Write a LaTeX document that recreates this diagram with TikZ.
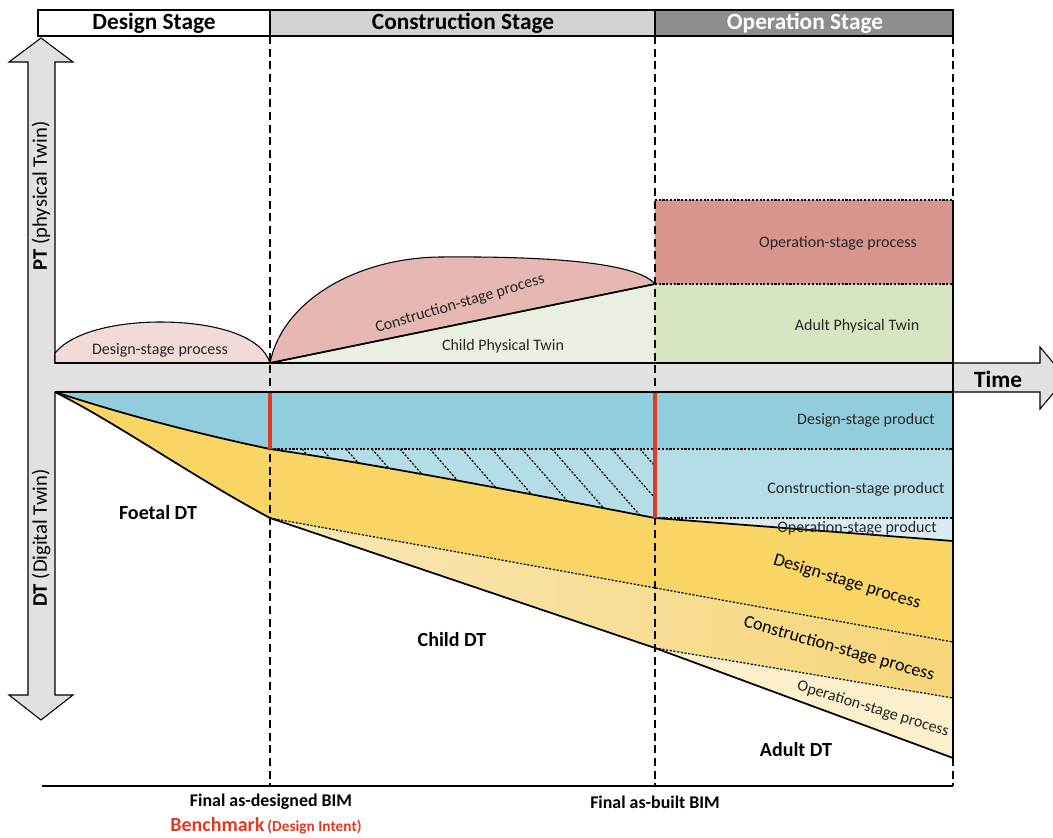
\documentclass[tikz,border=0pt]{standalone}
\usepackage{fontspec}
\setmainfont{Carlito}
\definecolor{hdrgray}{HTML}{D2D2D2}
\definecolor{hdrdark}{HTML}{8E8E8E}
\definecolor{bandgray}{HTML}{E1E1E1}
\definecolor{pinklight}{HTML}{F2DAD6}
\definecolor{pinkmid}{HTML}{E6B7B3}
\definecolor{childgreen}{HTML}{EAF0E1}
\definecolor{oppink}{HTML}{D8958E}
\definecolor{adultgreen}{HTML}{D8E5C2}
\definecolor{blueA}{HTML}{92CDDD}
\definecolor{blueB}{HTML}{B5DDE8}
\definecolor{blueC}{HTML}{DAEBF1}
\definecolor{yelA}{HTML}{F9D566}
\definecolor{yelBl}{HTML}{F9E7B6}
\definecolor{yelBr}{HTML}{F7D679}
\definecolor{yelC}{HTML}{FCEFCB}
\definecolor{redc}{HTML}{E03A24}
\definecolor{txt}{HTML}{262626}
\begin{document}
\begin{tikzpicture}[x=0.75pt,y=-0.75pt,
  lbl/.style={font=\fontsize{12}{14}\selectfont, text=txt, inner sep=0pt},
  biglbl/.style={font=\fontsize{13.5}{16}\selectfont, text=black, inner sep=0pt},
  boldlbl/.style={font=\fontsize{15}{18}\selectfont\bfseries, text=black, inner sep=0pt},
  hdr/.style={font=\fontsize{17.5}{20}\selectfont\bfseries, inner sep=0pt},
  edge/.style={line width=1.3pt, black},
  thinedge/.style={line width=0.8pt, black},
  dotl/.style={line width=0.9pt, dash pattern=on 1.6pt off 1.2pt},
  dashl/.style={line width=0.9pt, dash pattern=on 6pt off 3.5pt},
  redl/.style={line width=2.6pt, draw=redc}]
\useasboundingbox (0,0) rectangle (1053,838);
\clip (0,0) rectangle (1053,838);

% ---------- header ----------
\draw[thinedge, fill=white] (38,10) rectangle (270,36);
\draw[thinedge, fill=hdrgray] (270,10) rectangle (655,36);
\draw[thinedge, fill=hdrdark] (655,10) rectangle (953,36);
\node[hdr] (hd) at (154,23) {Design Stage};
\node[hdr] (hc) at (463,23) {Construction Stage};
\node[hdr, text=white] (ho) at (805,23) {Operation Stage};

% ---------- axes (cross-shaped double arrow + time arrow) ----------
\draw[line width=0.8pt, fill=bandgray]
  (41,38) -- (73,62) -- (55,62) -- (55,363) -- (1040,363) -- (1040,347)
  -- (1066,378) -- (1040,409) -- (1040,392) -- (55,392) -- (55,695)
  -- (73,695) -- (41,720) -- (9,695) -- (28,695) -- (28,62) -- (9,62) -- cycle;

% ---------- PT panel ----------
\coordinate (p0) at (55,363);
\coordinate (pd) at (270,363);
\coordinate (pc) at (655,284);
\coordinate (pe) at (953,363);
\filldraw[thinedge, fill=pinklight] (p0) -- (55,353)
  .. controls (75,329) and (125,322) .. (160,322)
  .. controls (215,322) and (262,336) .. (pd) -- cycle;
\fill[childgreen] (pd) -- (pc) -- (655,363) -- cycle;
\filldraw[thinedge, fill=pinkmid] (pd)
  .. controls (282,302) and (355,258) .. (440,257)
  .. controls (560,256) and (638,264) .. (pc) -- cycle;
\draw[edge] (pd) -- (pc);
\fill[oppink] (655,200) rectangle (953,284);
\fill[adultgreen] (655,284) rectangle (953,363);
\draw[dotl] (655,200) -- (953,200);
\draw[dotl] (pc) -- (953,284);
\draw[edge] (p0) -- (pe);

% ---------- DT panel ----------
\coordinate (d0) at (55,392);
\coordinate (d1) at (270,449);
\coordinate (d2) at (655,518);
\coordinate (d3) at (953,541);
\coordinate (l1) at (270,518);
\coordinate (l2) at (655,648);
\coordinate (l3) at (953,758);
\fill[blueA] (d0) -- (953,392) -- (953,449) -- (d1) .. controls (180,430) and (110,410) .. (d0) -- cycle;
\fill[blueB] (d1) -- (953,449) -- (953,518) -- (d2) .. controls (520,492) and (380,465) .. (d1) -- cycle;
\fill[blueC] (d2) -- (953,518) -- (d3) -- cycle;
\fill[yelA] (d0) .. controls (110,410) and (180,430) .. (d1)
  .. controls (380,465) and (520,492) .. (d2) -- (d3) -- (953,642) -- (l1)
  .. controls (190,475) and (120,425) .. (d0) -- cycle;
\shade[left color=yelBl, right color=yelBr] (l1) -- (953,642) -- (953,698) -- (l2) -- cycle;
\fill[yelC] (l2) -- (953,698) -- (l3) -- cycle;

% hatching
\begin{scope}
  \clip (d1) -- (655,449) -- (d2) .. controls (520,492) and (380,465) .. (d1) -- cycle;
  \foreach \hx in {302,322,346,372,400,430,462,492,522,552,582,612,640}
    \draw[dotl] (\hx,449) -- ++(62,71);
\end{scope}

\draw[dotl] (d1) -- (953,449);
\draw[dotl] (d2) -- (953,518);
\draw[dotl] (l1) -- (953,642);
\draw[dotl] (l2) -- (953,698);
\draw[edge] (d0) -- (953,392);
\draw[edge] (d0) .. controls (110,410) and (180,430) .. (d1)
  .. controls (380,465) and (520,492) .. (d2) -- (d3);
\draw[edge] (d0) .. controls (120,425) and (190,475) .. (l1) -- (l2) -- (l3);
\draw[edge] (953,200) -- (l3);

% ---------- stage separators ----------
\draw[dashl] (270,36) -- (270,786);
\draw[dashl] (655,36) -- (655,786);
\draw[dashl] (953,36) -- (953,200);
\draw[dashl] (953,758) -- (953,786);
\draw[redl] (270,393) -- (d1);
\draw[redl] (655,393) -- (d2);
\draw[line width=1pt] (42,786) -- (953,786);

% ---------- labels ----------
\node[font=\fontsize{15.5}{18}\selectfont, rotate=90, inner sep=0pt] (pt) at (41,196) {\textbf{PT} (physical Twin)};
\node[font=\fontsize{15.5}{18}\selectfont, rotate=90, inner sep=0pt] (dt) at (41,538) {\textbf{DT} (Digital Twin)};
\node[font=\fontsize{17.5}{20}\selectfont\bfseries, inner sep=0pt] (time) at (998,379) {Time};

\node[lbl] (t1) at (160,350) {Design-stage process};
\node[lbl, rotate=16.5] (t2) at (460,304) {Construction-stage process};
\node[lbl] (t3) at (503,346) {Child Physical Twin};
\node[lbl] (t4) at (838,243) {Operation-stage process};
\node[lbl] (t5) at (857,326) {Adult Physical Twin};

\node[lbl] (t6) at (866,420) {Design-stage product};
\node[lbl] (t7) at (856,489) {Construction-stage product};
\node[lbl] (t8) at (857,528) {Operation-stage product};
\node[biglbl, rotate=-17] (t9) at (847,582) {Design-stage process};
\node[biglbl, rotate=-16] (t10) at (839,649) {Construction-stage process};
\node[lbl, rotate=-17] (t11) at (873,709) {Operation-stage process};

\node[boldlbl] (f1) at (158,513) {Foetal DT};
\node[boldlbl] (f2) at (452,640) {Child DT};
\node[boldlbl] (f3) at (796,750) {Adult DT};

\node[font=\fontsize{13.4}{15}\selectfont\bfseries, inner sep=0pt] (b1) at (271,802) {Final as-designed BIM};
\node[font=\fontsize{13.4}{15}\selectfont\bfseries, inner sep=0pt] (b2) at (655,802) {Final as-built BIM};
\node[text=redc, inner sep=0pt, font=\bfseries] (b3) at (266,826) {{\fontsize{15}{17}\selectfont Benchmark} {\fontsize{11.5}{13}\selectfont (Design Intent)}};
\end{tikzpicture}
\end{document}
